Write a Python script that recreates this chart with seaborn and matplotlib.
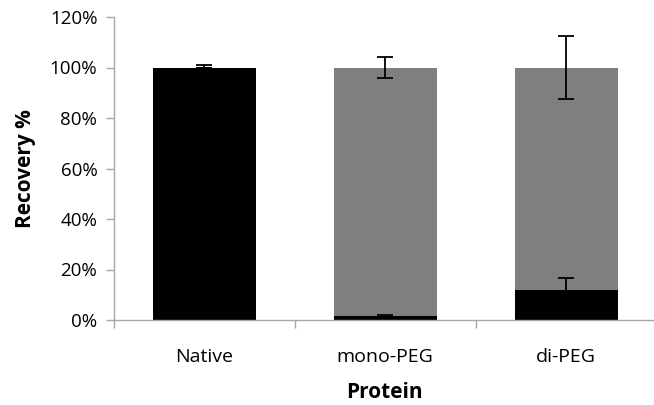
import matplotlib
matplotlib.use("Agg")
import matplotlib.pyplot as plt
import seaborn as sns
import pandas as pd
from matplotlib.ticker import PercentFormatter, FixedLocator

proteins = ["Native", "mono-PEG", "di-PEG"]
# recovered fraction split into two parts, stacked
black_part = [100.0, 1.6, 12.0]
gray_part = [0.0, 98.4, 88.0]
black_err = [0.0, 0.4, 4.6]
total_err = [0.8, 4.1, 12.5]

sns.set_theme(style="white")
plt.rcParams["font.family"] = ["Open Sans", "DejaVu Sans"]
plt.rcParams["text.color"] = "black"
plt.rcParams["axes.labelcolor"] = "black"
plt.rcParams["xtick.labelcolor"] = "black"
plt.rcParams["ytick.labelcolor"] = "black"

totals = [b + g for b, g in zip(black_part, gray_part)]
df = pd.DataFrame({"Protein": proteins, "black": black_part, "total": totals})

fig = plt.figure(figsize=(6.54, 4.05), dpi=100)
ax = fig.add_axes([114 / 654, 1 - 320 / 405, 1 - 114 / 654, (320 - 17) / 405])

sns.barplot(data=df, x="Protein", y="total", color="#7f7f7f", saturation=1,
            width=0.57, ax=ax, edgecolor="none")
sns.barplot(data=df, x="Protein", y="black", color="#000000", saturation=1,
            width=0.57, ax=ax, edgecolor="none")

xs = range(len(proteins))
ax.errorbar(xs, black_part, yerr=black_err, fmt="none", ecolor="black",
            elinewidth=1.3, capsize=5.5, capthick=1.3, zorder=5)
ax.errorbar(xs, totals, yerr=total_err, fmt="none", ecolor="black",
            elinewidth=1.3, capsize=5.5, capthick=1.3, zorder=5)

ax.set_ylim(0, 120)
ax.set_xlim(-0.5, 2 + (654 - 566) / 181)
ax.yaxis.set_major_locator(FixedLocator([0, 20, 40, 60, 80, 100, 120]))
ax.yaxis.set_major_formatter(PercentFormatter(decimals=0))

ax.set_xlabel("Protein", fontsize=15, fontweight="bold", labelpad=12)
ax.set_ylabel("Recovery %", fontsize=15, fontweight="bold", labelpad=10)

for s in ["top", "right"]:
    ax.spines[s].set_visible(False)
for s in ["left", "bottom"]:
    ax.spines[s].set_color("#a6a6a6")
    ax.spines[s].set_linewidth(1.0)

ax.tick_params(axis="y", which="major", direction="out", length=6, width=1,
               color="#a6a6a6", labelsize=13.5, pad=6, left=True)
ax.tick_params(axis="x", which="major", length=0, labelsize=14, pad=20)
ax.xaxis.set_minor_locator(FixedLocator([-0.5, 0.5, 1.5]))
ax.tick_params(axis="x", which="minor", direction="out", length=6, width=1,
               color="#a6a6a6", bottom=True)

fig.savefig("out.png", dpi=100)
